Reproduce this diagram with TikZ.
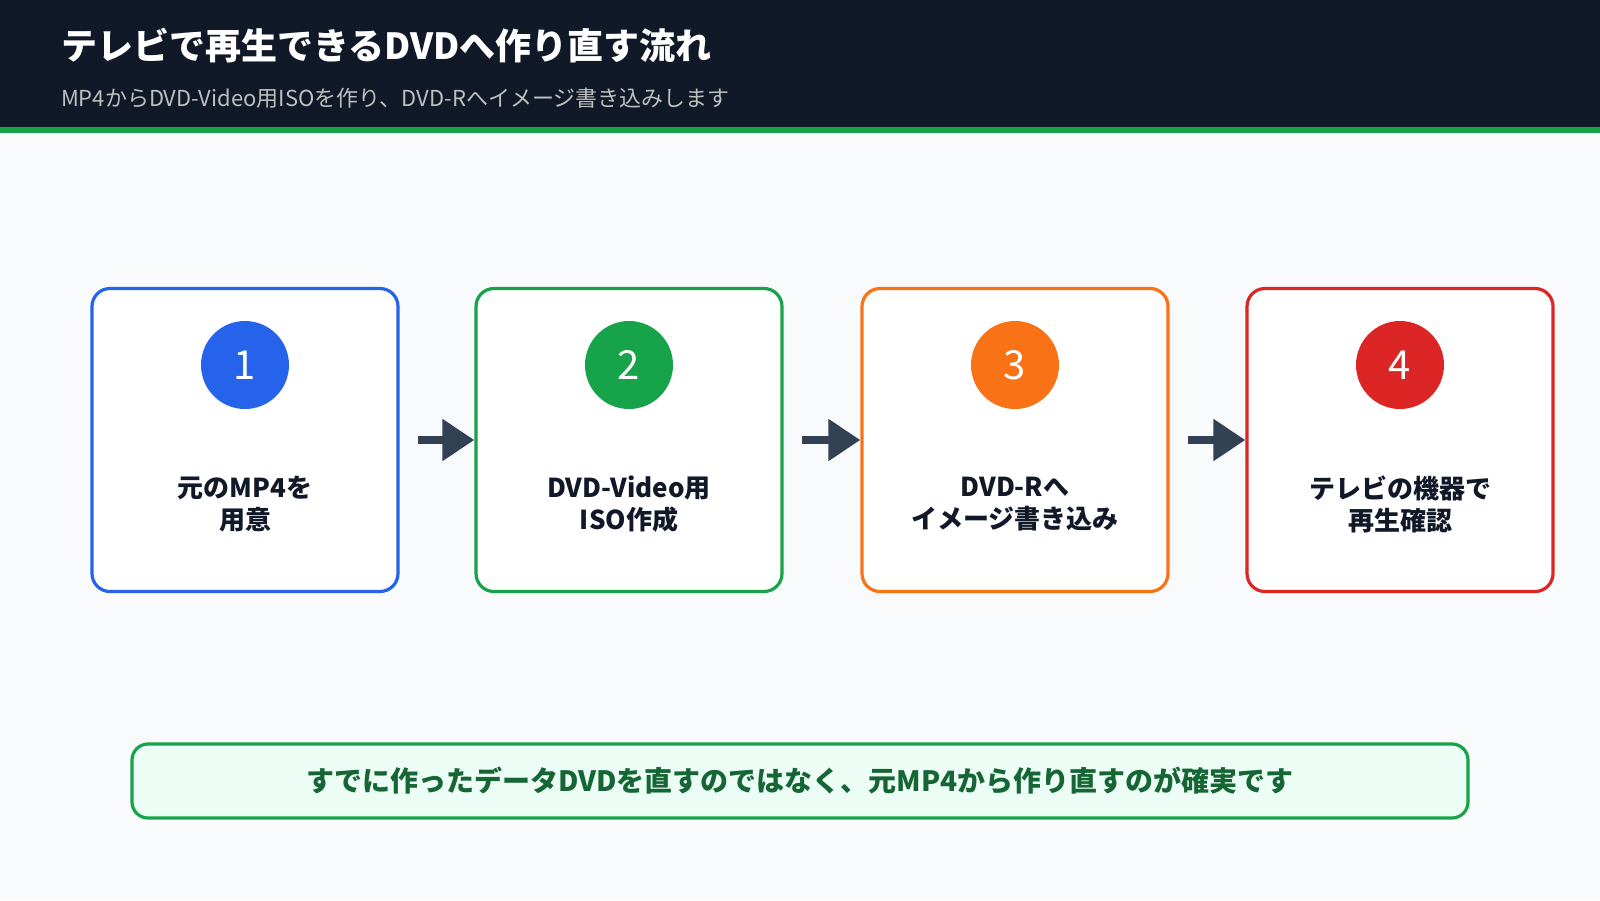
\documentclass[tikz,border=0pt]{standalone}
\usepackage{fontspec}
\setmainfont{Noto Sans CJK JP}
\usetikzlibrary{arrows.meta}
\definecolor{bg}{HTML}{F8FAFC}
\definecolor{hdr}{HTML}{111827}
\definecolor{c1}{HTML}{2563EB}
\definecolor{c2}{HTML}{16A34A}
\definecolor{c3}{HTML}{F97316}
\definecolor{c4}{HTML}{DC2626}
\definecolor{arr}{HTML}{334155}
\definecolor{note}{HTML}{166534}
\definecolor{notebg}{HTML}{ECFDF5}
\tikzset{
  step/.style={draw=#1,line width=1.6pt,rounded corners=9pt,fill=white,minimum width=153pt,minimum height=151.5pt},
  num/.style={circle,fill=#1,minimum size=44pt,inner sep=0pt,text=white,font=\fontsize{20}{22}\selectfont},
  lbl/.style={align=center,font=\bfseries\fontsize{13}{16}\selectfont,text=hdr},
  flow/.style={-{Triangle[length=16pt,width=20pt]},line width=4pt,draw=arr}
}
\begin{document}
\begin{tikzpicture}[x=0.5pt,y=-0.5pt]
\fill[bg] (0,0) rectangle (1600,900);
\fill[hdr] (0,0) rectangle (1600,128);
\fill[c2] (0,127) rectangle (1600,133);
\node[anchor=west,text=white,font=\bfseries\fontsize{18}{20}\selectfont] (title) at (54,46) {テレビで再生できるDVDへ作り直す流れ};
\node[anchor=west,text=gray!50,font=\fontsize{11}{13}\selectfont] (sub) at (54,98) {MP4からDVD-Video用ISOを作り、DVD-Rへイメージ書き込みします};
\foreach \i/\x/\c in {1/245/c1,2/629/c2,3/1015/c3,4/1400/c4}{
  \node[step=\c] (b\i) at (\x,440) {};
  \node[num=\c] (n\i) at (\x,365) {\i};
}
\node[lbl] (t1) at (245,504) {元のMP4を\\用意};
\node[lbl] (t2) at (629,504) {DVD-Video用\\ISO作成};
\node[lbl] (t3) at (1015,504) {DVD-Rへ\\イメージ書き込み};
\node[lbl] (t4) at (1400,504) {テレビの機器で\\再生確認};
\draw[flow] (b1.east)++(18,0) coordinate (a1) -- (b2.west);
\draw[flow] (b2.east)++(18,0) coordinate (a2) -- (b3.west);
\draw[flow] (b3.east)++(18,0) coordinate (a3) -- (b4.west);
\node[draw=c2,line width=1.6pt,rounded corners=8pt,fill=notebg,minimum width=668pt,minimum height=37pt,text=note,font=\bfseries\fontsize{14}{16}\selectfont] (note) at (800,781) {すでに作ったデータDVDを直すのではなく、元MP4から作り直すのが確実です};
\end{tikzpicture}
\end{document}
